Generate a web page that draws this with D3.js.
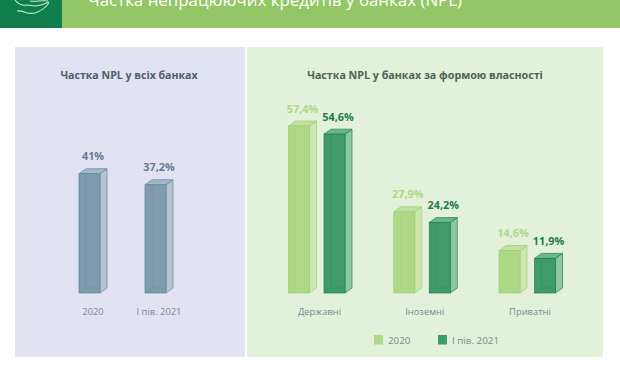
<!DOCTYPE html>
<html>
<head>
<meta charset="utf-8">
<script src="https://cdn.jsdelivr.net/npm/d3@7"></script>
<style>
  html, body { margin: 0; padding: 0; background: #fff; overflow: hidden; }
  svg { display: block; }
  text { font-family: "Open Sans", sans-serif; }
</style>
</head>
<body>
<svg width="620" height="370"></svg>
<script>
// chart data
const totalPeriods = ["2020", "І пів. 2021"];
const totalValues = [41, 37.2];
const ownerTypes = ["Державні", "Іноземні", "Приватні"];
const values2020 = [57.4, 27.9, 14.6];
const valuesH1 = [54.6, 24.2, 11.9];

const svg = d3.select("svg");

// header strip
svg.append("rect").attr("width", 620).attr("height", 28).attr("fill", "#93c664");
svg.append("rect").attr("width", 62).attr("height", 28).attr("fill", "#0f7d4c");
svg.append("text")
  .attr("x", 88).attr("y", 6)
  .attr("fill", "#fff").attr("font-size", 16.9).attr("font-weight", 500)
  .text("Частка непрацюючих кредитів у банках (NPL)");

// hand icon
svg.append("path")
  .attr("d", "M15 0 C18 4 22 6 27 5 L36 6 C42 5 46 3 49 2 M17 11 C24 10 27 15 35 13 C41 11 46 7 49 3 M30 1 C36 2 42 0 48 1")
  .attr("fill", "none").attr("stroke", "#c3ead2").attr("stroke-width", 1.1);

// panels
svg.append("rect").attr("x", 15).attr("y", 47).attr("width", 230).attr("height", 310).attr("fill", "#e1e2f2");
svg.append("rect").attr("x", 247).attr("y", 47).attr("width", 356).attr("height", 310).attr("fill", "#e3f1da");

// panel titles
svg.append("text").attr("x", 129).attr("y", 79).attr("text-anchor", "middle")
  .attr("fill", "#4c5f6d").attr("font-size", 10.6).attr("font-weight", 700)
  .text("Частка NPL у всіх банках");
svg.append("text").attr("x", 425).attr("y", 79).attr("text-anchor", "middle")
  .attr("fill", "#4f6358").attr("font-size", 10.7).attr("font-weight", 700)
  .text("Частка NPL у банках за формою власності");

// shared value scale, all bars sit on the same baseline
const y = d3.scaleLinear().domain([0, 57.4]).range([293, 126]);
const barW = 21, depthX = 7, depthY = 5;

// colours for one bar: front, side, top, edge
const blue = { front: "#7f9bae", side: "#b3c5d3", top: "#a3b8c8", edge: "#64849b", label: "#5f7d93" };
const light = { front: "#aed886", side: "#cbe6b3", top: "#bfe09f", edge: "#9fce76", label: "#aed886" };
const dark = { front: "#3f9c68", side: "#8fc7a2", top: "#6db48a", edge: "#1f7f4f", label: "#1b7a50" };

function drawBar(x, value, c) {
  const top = y(value), bottom = y(0);
  const g = svg.append("g").attr("stroke", c.edge).attr("stroke-width", 0.7);
  g.append("path").attr("fill", c.side)
    .attr("d", `M${x + barW},${top}L${x + barW + depthX},${top - depthY}L${x + barW + depthX},${bottom - depthY}L${x + barW},${bottom}Z`);
  g.append("path").attr("fill", c.top)
    .attr("d", `M${x},${top}L${x + depthX},${top - depthY}L${x + barW + depthX},${top - depthY}L${x + barW},${top}Z`);
  g.append("rect").attr("x", x).attr("y", top).attr("width", barW).attr("height", bottom - top).attr("fill", c.front);
  // inner back edges seen through the glass
  g.append("path").attr("fill", "none").attr("stroke-opacity", 0.45)
    .attr("d", `M${x + depthX},${top}V${bottom - depthY}M${x},${bottom}L${x + depthX},${bottom - depthY}H${x + barW}`);
  svg.append("text").attr("x", x + barW / 2 + 3.5).attr("y", top - depthY - 8.5)
    .attr("text-anchor", "middle").attr("font-size", 10.8).attr("font-weight", 700)
    .attr("fill", c.label)
    .text(String(value).replace(".", ",") + "%");
}

function categoryLabel(x, txt) {
  svg.append("text").attr("x", x).attr("y", 314.5).attr("text-anchor", "middle")
    .attr("font-size", 9.4).attr("fill", "#7f8a8f").text(txt);
}

// left panel
const xTotal = d3.scalePoint().domain(totalPeriods).range([79, 145]);
totalPeriods.forEach((p, i) => {
  drawBar(xTotal(p), totalValues[i], blue);
  categoryLabel(xTotal(p) + 14, p);
});

// right panel
const xGroup = d3.scalePoint().domain(ownerTypes).range([288.5, 499]);
const xInner = d3.scalePoint().domain(["2020", "І пів. 2021"]).range([0, 35.5]);
ownerTypes.forEach((t, i) => {
  drawBar(xGroup(t) + xInner("2020"), values2020[i], light);
  drawBar(xGroup(t) + xInner("І пів. 2021"), valuesH1[i], dark);
  categoryLabel(xGroup(t) + 31, t);
});

// legend
const legend = [["2020", 374, light.front], ["І пів. 2021", 438, dark.front]];
legend.forEach((d) => {
  svg.append("rect").attr("x", d[1]).attr("y", 335).attr("width", 9).attr("height", 9.5).attr("fill", d[2]);
  svg.append("text").attr("x", d[1] + 14).attr("y", 344).attr("font-size", 9.8).attr("fill", "#7f8a8f").text(d[0]);
});
</script>
</body>
</html>
